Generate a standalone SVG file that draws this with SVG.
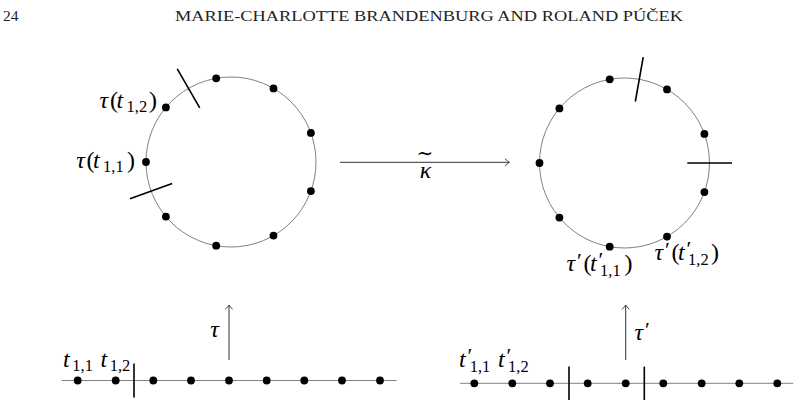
<svg xmlns="http://www.w3.org/2000/svg" width="801" height="407" viewBox="0 0 801 407">
<style>
.bg{fill:#ffffff}
.circ{fill:none;stroke:#808080;stroke-width:1}
.axis{fill:none;stroke:#808080;stroke-width:1}
.dot{fill:#000000}
.tick{stroke:#000000;stroke-width:1.6;fill:none}
.conn{stroke:#333333;stroke-width:1;fill:none}
.hdr{font-family:"Liberation Serif","Times New Roman",serif;font-size:15.5px;fill:#222222}
.m{font-family:"Liberation Serif","DejaVu Serif",serif;font-size:24px;fill:#000000}
.i{font-style:italic}
.s{font-size:16.5px;font-style:normal}
.p{font-size:22px;font-style:normal}
</style>
<defs>
<marker id="arr" markerUnits="userSpaceOnUse" markerWidth="12" markerHeight="12" viewBox="-6 -6 12 12" refX="0" refY="0" orient="auto">
<path d="M-4.4,-3.6 Q-1.3,-0.9 0,0 Q-1.3,0.9 -4.4,3.6" fill="none" stroke="#333333" stroke-width="0.9"/>
</marker>
<circle id="d" r="3.9" class="dot"/>
</defs>
<rect class="bg" x="0" y="0" width="801" height="407"/>
<g id="header">
<text class="hdr" x="3" y="20.7">24</text>
<text class="hdr" x="175" y="20.7" textLength="508" lengthAdjust="spacingAndGlyphs">MARIE-CHARLOTTE BRANDENBURG AND ROLAND PÚČEK</text>
</g>
<g id="circle-left">
<circle class="circ" cx="231" cy="162" r="85"/>
<use href="#d" x="146" y="162"/>
<use href="#d" x="165.9" y="107.4"/>
<use href="#d" x="216.2" y="78.3"/>
<use href="#d" x="273.5" y="88.4"/>
<use href="#d" x="310.9" y="132.9"/>
<use href="#d" x="310.9" y="191.1"/>
<use href="#d" x="273.5" y="235.6"/>
<use href="#d" x="216.2" y="245.7"/>
<use href="#d" x="165.9" y="216.6"/>
<line class="tick" x1="177.25" y1="68.9" x2="199.75" y2="107.9"/>
<line class="tick" x1="130" y1="198.8" x2="172.2" y2="183.4"/>
<text class="m"><tspan class="i" x="99.5" y="108">τ</tspan><tspan x="110" y="108">(</tspan><tspan class="i" x="116.5" y="108">t</tspan><tspan class="s" x="126.5" y="112">1,2</tspan><tspan x="149" y="108">)</tspan></text>
<text class="m"><tspan class="i" x="76.2" y="168">τ</tspan><tspan x="86.5" y="168">(</tspan><tspan class="i" x="93" y="168">t</tspan><tspan class="s" x="103" y="172">1,1</tspan><tspan x="127" y="168">)</tspan></text>
</g>
<g id="circle-right">
<circle class="circ" cx="624.5" cy="163" r="85"/>
<use href="#d" x="539.5" y="163"/>
<use href="#d" x="559.4" y="108.4"/>
<use href="#d" x="609.7" y="79.3"/>
<use href="#d" x="667" y="89.4"/>
<use href="#d" x="704.4" y="133.9"/>
<use href="#d" x="704.4" y="192.1"/>
<use href="#d" x="667" y="236.6"/>
<use href="#d" x="609.7" y="246.7"/>
<use href="#d" x="559.4" y="217.6"/>
<line class="tick" x1="643.2" y1="57.1" x2="635.35" y2="101.5"/>
<line class="tick" x1="687.3" y1="163" x2="732" y2="163"/>
<text class="m"><tspan class="i" x="566.5" y="271">τ</tspan><tspan class="p" x="577" y="268">′</tspan><tspan x="583.5" y="271">(</tspan><tspan class="i" x="590" y="271">t</tspan><tspan class="p" x="598.5" y="267">′</tspan><tspan class="s" x="600" y="276">1,1</tspan><tspan x="624.5" y="271">)</tspan></text>
<text class="m"><tspan class="i" x="654.5" y="260">τ</tspan><tspan class="p" x="665" y="257">′</tspan><tspan x="671.5" y="260">(</tspan><tspan class="i" x="678" y="260">t</tspan><tspan class="p" x="686.5" y="256">′</tspan><tspan class="s" x="688" y="265">1,2</tspan><tspan x="711" y="260">)</tspan></text>
</g>
<g id="line-left">
<line class="axis" x1="61.7" y1="380.5" x2="396.7" y2="380.5"/>
<use href="#d" x="77.7" y="380.5"/>
<use href="#d" x="115.7" y="380.5"/>
<use href="#d" x="153.3" y="380.5"/>
<use href="#d" x="191" y="380.5"/>
<use href="#d" x="229" y="380.5"/>
<use href="#d" x="266.7" y="380.5"/>
<use href="#d" x="304.3" y="380.5"/>
<use href="#d" x="342" y="380.5"/>
<use href="#d" x="380" y="380.5"/>
<line class="tick" x1="134" y1="363.5" x2="134" y2="397.5"/>
<text class="m"><tspan class="i" x="63" y="367">t</tspan><tspan class="s" x="72.3" y="370.5">1,1</tspan></text>
<text class="m"><tspan class="i" x="100.4" y="367">t</tspan><tspan class="s" x="109.7" y="370.5">1,2</tspan></text>
</g>
<g id="line-right">
<line class="axis" x1="460" y1="383.3" x2="793.3" y2="383.3"/>
<use href="#d" x="474.3" y="383.3"/>
<use href="#d" x="512.3" y="383.3"/>
<use href="#d" x="550" y="383.3"/>
<use href="#d" x="587.7" y="383.3"/>
<use href="#d" x="625.7" y="383.3"/>
<use href="#d" x="663.3" y="383.3"/>
<use href="#d" x="701.7" y="383.3"/>
<use href="#d" x="739.3" y="383.3"/>
<use href="#d" x="777.3" y="383.3"/>
<line class="tick" x1="569" y1="366.6" x2="569" y2="400"/>
<line class="tick" x1="644.3" y1="366.6" x2="644.3" y2="400"/>
<text class="m"><tspan class="i" x="459" y="367">t</tspan><tspan class="p" x="467.5" y="363">′</tspan><tspan class="s" x="469.7" y="372">1,1</tspan></text>
<text class="m"><tspan class="i" x="498" y="367">t</tspan><tspan class="p" x="506.5" y="363">′</tspan><tspan class="s" x="508" y="372">1,2</tspan></text>
</g>
<g id="connectors">
<line class="conn" x1="340" y1="162.3" x2="509.3" y2="162.3" marker-end="url(#arr)"/>
<line class="conn" x1="229" y1="360" x2="229" y2="305" marker-end="url(#arr)"/>
<line class="conn" x1="625.7" y1="360" x2="625.7" y2="305" marker-end="url(#arr)"/>
<text class="m" x="425" y="160" text-anchor="middle" style="font-family:'DejaVu Serif',serif;font-size:20px">∼</text>
<text class="m i" x="425.5" y="178.3" text-anchor="middle">κ</text>
<text class="m i" x="210.2" y="337.3">τ</text>
<text class="m"><tspan class="i" x="634.5" y="340">τ</tspan><tspan class="p" x="645" y="337">′</tspan></text>
</g>
</svg>
